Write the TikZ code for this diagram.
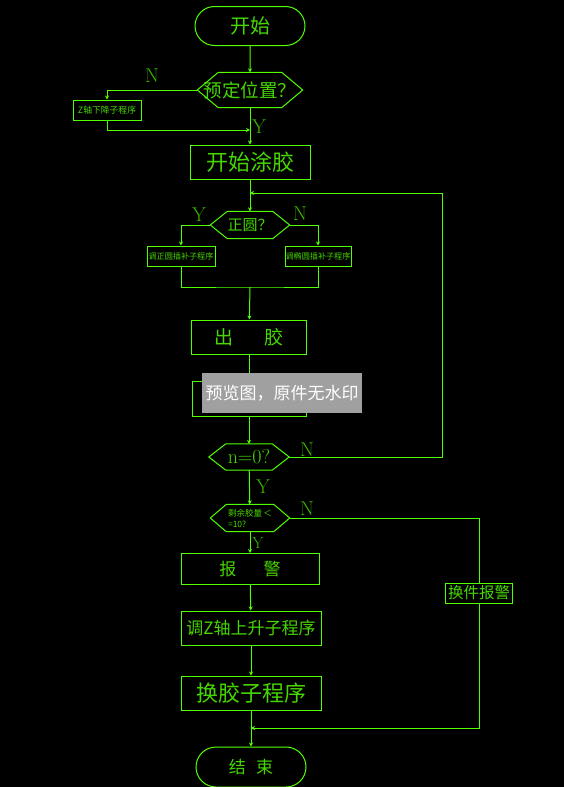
\documentclass[tikz,border=0pt]{standalone}
\usepackage{fontspec}
\usepackage{tikz}
\usetikzlibrary{shapes.misc,arrows.meta}
\newfontfamily\cjk{Noto Sans CJK SC}
\definecolor{lgreen}{RGB}{80,255,0}
\definecolor{tgreen}{RGB}{70,215,0}
\definecolor{mark}{RGB}{160,160,160}
\tikzset{
  line/.style={draw=lgreen,line width=1pt},
  flow/.style={line,-{Stealth[length=4pt,width=4pt]}},
  term/.style={line,rounded rectangle,minimum width=110pt,minimum height=39pt,inner sep=0pt,text=tgreen,font=\cjk\fontsize{20}{22}\selectfont},
  proc/.style={line,rectangle,inner sep=0pt,text=tgreen,font=\cjk\fontsize{17}{20}\selectfont},
  small/.style={proc,font=\cjk\fontsize{8.1}{10}\selectfont},
  dec/.style={rectangle,inner sep=0pt,text=tgreen},
  yn/.style={text=tgreen!85!black,font=\fontsize{20}{22}\selectfont,inner sep=0pt}
}
\begin{document}
\begin{tikzpicture}[x=1pt,y=-1pt]
\useasboundingbox[fill=black] (0,0) rectangle (564,787);
% main column
\node[term] (start) at (250,26) {开始};
\node[dec,minimum width=105pt,minimum height=35pt,font=\cjk\fontsize{18.5}{20}\selectfont] (pos) at (250,90) {预定位置？};
\node[small,minimum width=68pt,minimum height=20pt,font=\cjk\fontsize{8.8}{10}\selectfont] (zdown) at (107,110) {Z轴下降子程序};
\node[proc,minimum width=120pt,minimum height=34pt,font=\cjk\fontsize{22}{24}\selectfont] (glue) at (250,162) {开始涂胶};
\node[dec,minimum width=79pt,minimum height=27pt,font=\cjk\fontsize{15}{17}\selectfont] (circ) at (250,225) {正圆？};
\node[small,minimum width=68pt,minimum height=20pt] (arcL) at (181,256) {调正圆插补子程序};
\node[small,minimum width=66pt,minimum height=20pt] (arcR) at (318,256) {调椭圆插补子程序};
\node[proc,minimum width=115pt,minimum height=34pt,font=\cjk\fontsize{19}{22}\selectfont] (out) at (249,337) {出\hspace{1.6em}胶};
\node[proc,minimum width=114pt,minimum height=35pt] (delay) at (249,399) {};
\node[dec,minimum width=80pt,minimum height=26pt,font=\fontsize{20}{22}\selectfont] (n0) at (249,457) {n=0?};
\node[dec,minimum width=79pt,minimum height=27pt,align=left,font=\cjk\fontsize{8.5}{11}\selectfont] (rest) at (250,518) {剩余胶量\,＜\\=10?};
\node[proc,minimum width=138pt,minimum height=31pt,font=\cjk\fontsize{17}{19}\selectfont] (alarm) at (250,569) {报\hspace{1.6em}警};
\node[proc,minimum width=140pt,minimum height=34pt,font=\cjk\fontsize{17}{19}\selectfont] (zup) at (251,628) {调Z轴上升子程序};
\node[proc,minimum width=140pt,minimum height=34pt,font=\cjk\fontsize{22}{24}\selectfont] (change) at (251,693) {换胶子程序};
\node[term,minimum height=40pt,font=\cjk\fontsize{17}{19}\selectfont] (end) at (251,767) {结\hspace{0.6em}束};
\node[proc,minimum width=67pt,minimum height=20pt,font=\cjk\fontsize{15.5}{17}\selectfont] (swap) at (479,593) {换件报警};
% hexagon outlines of the decisions
\foreach \d/\e in {pos/21,circ/17,n0/17,rest/16}
  \draw[line] (\d.west) -- ([xshift=\e pt]\d.north west) -- ([xshift=-\e pt]\d.north east) -- (\d.east)
    -- ([xshift=-\e pt]\d.south east) -- ([xshift=\e pt]\d.south west) -- cycle;
% junctions
\coordinate (j1) at (250,130);
\coordinate (j2) at (250,193);
\coordinate (loopR) at (442,193);
\coordinate (j3) at (250,287);
\coordinate (j4) at (251,728);
% connectors
\draw[flow] (start) -- (pos);
\draw[flow] (pos.west) -| (zdown.north);
\draw[flow] (zdown.south) |- (j1);
\draw[flow] (pos) -- (glue);
\draw[flow] (glue) -- (circ);
\draw[flow] (n0.east) -| (loopR) -- (j2);
\draw[flow] (circ.west) -| (arcL.north);
\draw[flow] (circ.east) -| (arcR.north);
\draw[line] (arcL.south) |- (j3) -| (arcR.south);
\draw[flow] (j3) -- (out);
\draw[flow] (out) -- (delay);
\draw[flow] (delay) -- (n0);
\draw[flow] (n0) -- (rest);
\draw[flow] (rest) -- (alarm);
\draw[flow] (alarm) -- (zup);
\draw[flow] (zup) -- (change);
\draw[flow] (change) -- (end);
\draw[line] (rest.east) -| (swap.north);
\draw[flow] (swap.south) |- (j4);
% Y / N labels
\node[yn] (n1) at (152,76) {N};
\node[yn] (y1) at (259,127) {Y};
\node[yn] (y2) at (199,215) {Y};
\node[yn] (n2) at (300,214) {N};
\node[yn] (n3) at (307,450) {N};
\node[yn] (y3) at (263,487) {Y};
\node[yn] (n4) at (307,509) {N};
\node[yn,font=\fontsize{16}{18}\selectfont] (y4) at (258,543) {Y};
% preview watermark
\node[fill=mark,minimum width=160pt,minimum height=40pt,inner sep=0pt,text=white,font=\cjk\fontsize{17}{19}\selectfont] (wm) at (282,393) {预览图，原件无水印};
\end{tikzpicture}
\end{document}
